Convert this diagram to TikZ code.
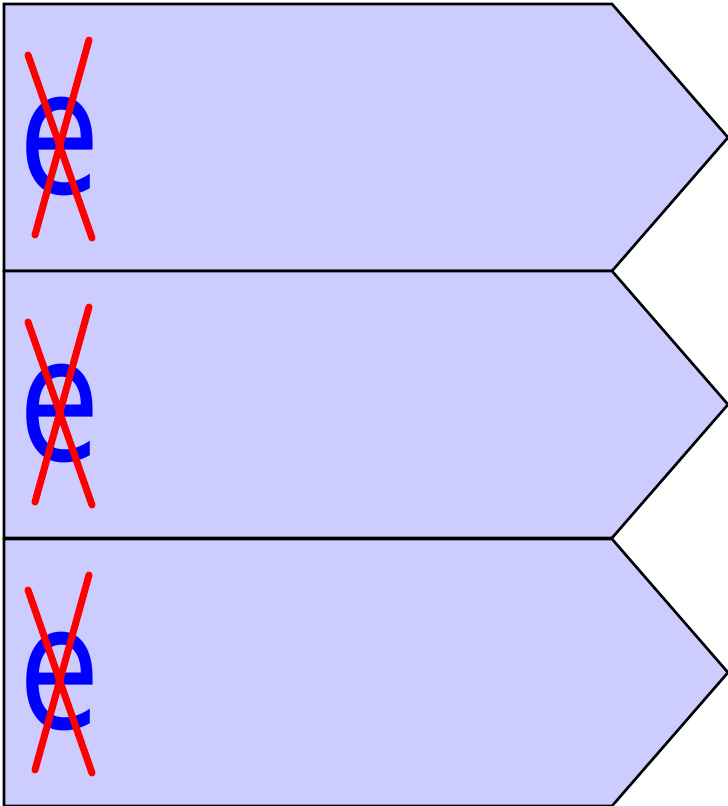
\documentclass[tikz,border=0pt]{standalone}
\usepackage{fontspec}
\usepackage{tikz}
\newfontfamily\letterfont{DejaVu Sans}

\begin{document}
\begin{tikzpicture}[
  x=0.02cm,y=-0.02cm,
  tagbox/.style={draw=black,fill=blue!20,line width=1.5pt,line join=miter},
  letter/.style={text=blue,font=\letterfont\fontsize{98}{98}\selectfont,
                 inner sep=0pt,xscale=0.76,anchor=base},
  strike/.style={red,line width=4pt,line cap=round}]
\useasboundingbox (0,0) rectangle (728,806);
\foreach \i/\y in {0/4,1/271,2/539}{
  \draw[tagbox] (4,\y) -- (612,\y) -- (728,\y+133.5) -- (612,\y+267)
                -- (4,\y+267) -- cycle;
  \node[letter] (e\i) at (59.5,\y+189) {e};
  \draw[strike] (28,\y+51) -- (92,\y+234);
  \draw[strike] (89,\y+36) -- (35,\y+231);
}
\end{tikzpicture}
\end{document}
